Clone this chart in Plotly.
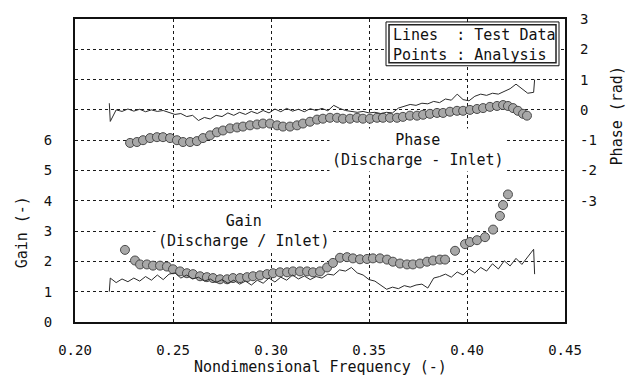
import plotly.graph_objects as go

# ---------------- data ----------------
test_freq = [0.2175, 0.218, 0.221, 0.224, 0.227, 0.230, 0.233, 0.236, 0.239, 0.242, 0.245,
             0.248, 0.251, 0.254, 0.257, 0.260, 0.263, 0.266, 0.269, 0.272, 0.275,
             0.278, 0.281, 0.284, 0.287, 0.290, 0.293, 0.296, 0.299, 0.302, 0.305,
             0.308, 0.311, 0.314, 0.317, 0.320, 0.323, 0.326, 0.329, 0.332, 0.335,
             0.338, 0.341, 0.344, 0.347, 0.350, 0.353, 0.356, 0.359, 0.362, 0.365,
             0.368, 0.371, 0.374, 0.377, 0.380, 0.383, 0.386, 0.389, 0.392, 0.395,
             0.398, 0.401, 0.404, 0.407, 0.410, 0.413, 0.416, 0.419, 0.422, 0.425,
             0.428, 0.431, 0.434, 0.4345]

gain_test = [1.00, 1.45, 1.30, 1.42, 1.33, 1.45, 1.35, 1.50, 1.38, 1.55, 1.40,
             1.58, 1.62, 1.45, 1.55, 1.42, 1.48, 1.35, 1.42, 1.30, 1.40,
             1.28, 1.38, 1.25, 1.35, 1.22, 1.38, 1.28, 1.45, 1.32, 1.48,
             1.38, 1.55, 1.42, 1.52, 1.40, 1.50, 1.45, 1.58, 1.55, 1.72,
             1.68, 1.80, 1.62, 1.55, 1.40, 1.35, 1.22, 1.08, 1.15, 1.10,
             1.20, 1.15, 1.22, 1.25, 1.12, 1.45, 1.50, 1.58, 1.48, 1.65,
             1.55, 1.75, 1.62, 1.80, 1.68, 1.92, 1.75, 2.02, 1.85, 2.10,
             1.90, 2.15, 2.40, 1.58]

phase_test = [0.22, -0.38, 0.00, -0.05, 0.03, -0.04, 0.02, -0.06, 0.00, -0.05, -0.02,
              -0.08, -0.15, -0.12, -0.22, -0.18, -0.35, -0.25, -0.30, -0.18, -0.22,
              -0.10, -0.18, -0.08, -0.15, -0.05, -0.12, -0.02, -0.10, 0.03, -0.06,
              0.05, -0.04, 0.02, -0.06, 0.04, -0.02, 0.05, -0.03, 0.15, 0.05,
              -0.02, -0.05, -0.08, -0.05, -0.10, -0.08, -0.12, -0.08, -0.10, 0.06,
              0.12, 0.18, 0.15, 0.22, 0.20, 0.28, 0.24, 0.36, 0.32, 0.52,
              0.34, 0.30, 0.45, 0.52, 0.48, 0.55, 0.52, 0.62, 0.70, 0.85,
              0.70, 0.55, 0.58, 1.00]

gain_freq = [0.2255, 0.2306, 0.2332, 0.2367, 0.2398, 0.2434, 0.2469, 0.2500, 0.2536, 0.2571,
             0.2602, 0.2638, 0.2673, 0.2704, 0.2740, 0.2776, 0.2806, 0.2842, 0.2878, 0.2908,
             0.2944, 0.2980, 0.3010, 0.3046, 0.3082, 0.3112, 0.3148, 0.3184, 0.3214, 0.3250,
             0.3286, 0.3316, 0.3352, 0.3388, 0.3418, 0.3454, 0.3490, 0.3520, 0.3556, 0.3592,
             0.3622, 0.3658, 0.3694, 0.3724, 0.3760, 0.3796, 0.3827, 0.3862, 0.3888, 0.3939,
             0.3990, 0.4015, 0.4051, 0.4092, 0.4133, 0.4168, 0.4184, 0.4209]
gain_analysis = [2.38, 2.03, 1.90, 1.90, 1.86, 1.86, 1.83, 1.74, 1.67, 1.61,
                 1.58, 1.51, 1.48, 1.45, 1.41, 1.41, 1.45, 1.45, 1.48, 1.51,
                 1.54, 1.58, 1.61, 1.64, 1.64, 1.67, 1.67, 1.67, 1.64, 1.67,
                 1.80, 1.95, 2.12, 2.14, 2.10, 2.07, 2.08, 2.10, 2.10, 2.06,
                 1.99, 1.93, 1.90, 1.90, 1.93, 1.99, 2.03, 2.06, 2.06, 2.35,
                 2.57, 2.64, 2.70, 2.80, 3.05, 3.50, 3.86, 4.21]

phase_freq = [0.2281, 0.2316, 0.2347, 0.2383, 0.2418, 0.2449, 0.2485, 0.2520, 0.2551, 0.2587,
              0.2622, 0.2653, 0.2689, 0.2724, 0.2755, 0.2791, 0.2827, 0.2857, 0.2893, 0.2929,
              0.2959, 0.2995, 0.3031, 0.3061, 0.3097, 0.3133, 0.3163, 0.3199, 0.3235, 0.3265,
              0.3301, 0.3337, 0.3367, 0.3403, 0.3439, 0.3469, 0.3505, 0.3541, 0.3571, 0.3607,
              0.3643, 0.3673, 0.3709, 0.3745, 0.3776, 0.3811, 0.3847, 0.3878, 0.3913, 0.3949,
              0.3980, 0.4015, 0.4051, 0.4082, 0.4117, 0.4153, 0.4184, 0.4209, 0.4235, 0.4260,
              0.4286, 0.4306]
phase_analysis = [-1.09, -1.06, -1.00, -0.93, -0.90, -0.90, -0.93, -1.00, -1.06, -1.06,
                  -1.03, -0.93, -0.84, -0.74, -0.68, -0.61, -0.58, -0.55, -0.51, -0.48,
                  -0.45, -0.45, -0.51, -0.55, -0.55, -0.51, -0.45, -0.39, -0.32, -0.29,
                  -0.26, -0.26, -0.29, -0.29, -0.26, -0.29, -0.29, -0.26, -0.26, -0.26,
                  -0.26, -0.23, -0.19, -0.19, -0.16, -0.13, -0.10, -0.10, -0.06, -0.03,
                  -0.03, 0.00, 0.03, 0.06, 0.10, 0.13, 0.16, 0.13, 0.06, -0.03,
                  -0.13, -0.19]

x_ticks = [0.20, 0.25, 0.30, 0.35, 0.40, 0.45]
x_ticklabels = ["0.20", "0.25", "0.30", "0.35", "0.40", "0.45"]
gain_ticks = [0, 1, 2, 3, 4, 5, 6, 7, 8, 9, 10]
gain_ticklabels = ["0", "1", "2", "3", "4", "5", "6", "", "", "", ""]
phase_ticks = [-3, -2, -1, 0, 1, 2, 3]
phase_ticklabels = ["-3", "-2", "-1", "0", "1", "2", "3"]

# ---------------- figure ----------------
W, H = 639, 380
L, R, T, B = 75, 565, 11, 322
FONT = "DejaVu Sans Mono"


def pxx(x):
    return (x - L) / (R - L)


def pxy(y):
    return (B - y) / (B - T)


line_color = "#2b2b2b"
marker_fill = "#a8a8a8"
marker_edge = "#4a4a4a"

fig = go.Figure()

fig.add_trace(go.Scatter(x=gain_freq, y=gain_analysis, mode="markers", yaxis="y",
                         marker=dict(size=9, color=marker_fill,
                                     line=dict(color=marker_edge, width=1)),
                         showlegend=False, hoverinfo="skip"))
fig.add_trace(go.Scatter(x=phase_freq, y=phase_analysis, mode="markers", yaxis="y2",
                         marker=dict(size=9, color=marker_fill,
                                     line=dict(color=marker_edge, width=1)),
                         showlegend=False, hoverinfo="skip"))
fig.add_trace(go.Scatter(x=test_freq, y=gain_test, mode="lines", yaxis="y",
                         line=dict(color=line_color, width=1),
                         showlegend=False, hoverinfo="skip"))
fig.add_trace(go.Scatter(x=test_freq, y=phase_test, mode="lines", yaxis="y2",
                         line=dict(color=line_color, width=1),
                         showlegend=False, hoverinfo="skip"))

grid = dict(showgrid=True, gridcolor="#1a1a1a", gridwidth=1, griddash="dot")

fig.update_layout(
    width=W, height=H, autosize=False,
    margin=dict(l=L, r=W - R, t=T, b=H - B, pad=0),
    paper_bgcolor="white", plot_bgcolor="white",
    font=dict(family=FONT, size=14, color="#111"),
    showlegend=False,
    xaxis=dict(range=[0.20, 0.45], tickvals=x_ticks, ticktext=x_ticklabels,
               showline=True, linecolor="#111", linewidth=2, mirror=True,
               zeroline=False, ticks="", ticklabelstandoff=14,
               tickfont=dict(family=FONT, size=14), **grid),
    yaxis=dict(range=[0, 10], tickvals=gain_ticks, ticktext=gain_ticklabels,
               showline=True, linecolor="#111", linewidth=2, mirror=True,
               zeroline=False, ticks="", ticklabelstandoff=18,
               tickfont=dict(family=FONT, size=14), **grid),
    yaxis2=dict(range=[-7, 3], tickvals=phase_ticks, ticktext=phase_ticklabels,
                overlaying="y", side="right", showgrid=False, zeroline=False,
                showline=False, ticks="", ticklabelstandoff=14,
                tickfont=dict(family=FONT, size=14)),
)

shapes = [
    dict(type="rect", xref="paper", yref="paper",
         x0=pxx(386), x1=pxx(559), y0=pxy(59), y1=pxy(14),
         line=dict(color="#111", width=1), fillcolor="white", layer="above"),
    dict(type="rect", xref="paper", yref="paper",
         x0=pxx(389), x1=pxx(556), y0=pxy(56), y1=pxy(17),
         line=dict(color="#222", width=1.5), fillcolor="rgba(0,0,0,0)", layer="above"),
]
fig.update_layout(shapes=shapes)

annotations = [
    dict(text="Lines\u00a0\u00a0: Test Data<br>Points : Analysis".replace(" ", "\u00a0"),
         xref="paper", yref="paper", x=pxx(391), y=pxy(37.5),
         xanchor="left", yanchor="middle", align="left", showarrow=False,
         font=dict(family=FONT, size=15, color="#111")),
    dict(text="Gain<br>(Discharge / Inlet)".replace(" ", "\u00a0"),
         xref="paper", yref="paper", x=pxx(244), y=pxy(229),
         xanchor="center", yanchor="middle", align="center", showarrow=False,
         bgcolor="white", borderpad=2,
         font=dict(family=FONT, size=15, color="#111")),
    dict(text="Phase<br>(Discharge - Inlet)".replace(" ", "\u00a0"),
         xref="paper", yref="paper", x=pxx(418), y=pxy(145),
         xanchor="center", yanchor="middle", align="center", showarrow=False,
         bgcolor="white", borderpad=2,
         font=dict(family=FONT, size=15, color="#111")),
    dict(text="Nondimensional Frequency (-)".replace(" ", "\u00a0"),
         xref="paper", yref="paper", x=0.5, y=pxy(368),
         xanchor="center", yanchor="middle", showarrow=False,
         font=dict(family=FONT, size=15, color="#111")),
    dict(text="Gain (-)".replace(" ", "\u00a0"),
         xref="paper", yref="paper", x=pxx(22), y=pxy(230), textangle=-90,
         xanchor="center", yanchor="middle", showarrow=False,
         font=dict(family=FONT, size=15, color="#111")),
    dict(text="Phase (rad)".replace(" ", "\u00a0"),
         xref="paper", yref="paper", x=pxx(617), y=pxy(111), textangle=-90,
         xanchor="center", yanchor="middle", showarrow=False,
         font=dict(family=FONT, size=15, color="#111")),
]
fig.update_layout(annotations=annotations)

fig.write_html("out.html", config={"displayModeBar": False},
               post_script="document.body.style.margin='0px';document.body.style.overflow='hidden';")
